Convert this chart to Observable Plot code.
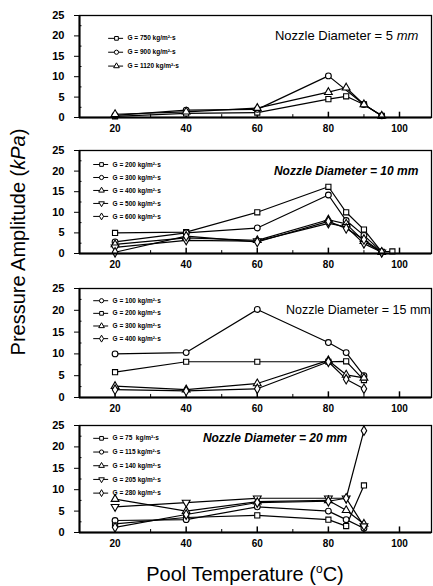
<!DOCTYPE html>
<html><head><meta charset="utf-8">
<script src="https://cdn.jsdelivr.net/npm/d3@7"></script>
<script src="https://cdn.jsdelivr.net/npm/@observablehq/plot@0.6"></script>
<style>
html,body{margin:0;padding:0;background:#fff;}
#wrap{position:relative;width:433px;height:586px;overflow:hidden;font-family:"Liberation Sans",Arial,sans-serif;color:#000;}
.panel{position:absolute;left:0;}
.ytitle{position:absolute;left:18px;top:242px;transform:translate(-50%,-50%) rotate(-90deg);font-size:20px;white-space:nowrap;}
.xtitle{position:absolute;left:245px;top:574px;transform:translate(-50%,-50%);font-size:20px;white-space:nowrap;}
</style></head><body>
<div id="wrap">
  <div class="ytitle">Pressure Amplitude (<i>kPa</i>)</div>
  <div class="xtitle">Pool Temperature (<sup style="font-size:12px">o</sup>C)</div>
</div>
<script>
// ---- Data ----
const yTicks = [0, 5, 10, 15, 20, 25];
const xTicks = [20, 40, 60, 80, 100];

// Nozzle diameter 5 mm
const temps5 = [20, 40, 60, 80, 85, 90, 95];
const d5_750  = [0.3, 1.0, 1.2, 4.5, 5.2, 3.2, 0.4];
const d5_900  = [0.5, 1.8, 2.0, 10.2, null, 3.2, 0.4];
const d5_1120 = [0.8, 1.4, 2.3, 6.2, 7.3, 3.2, 0.4];
const labels5 = ["G = 750 kg/m²·s", "G = 900 kg/m²·s", "G = 1120 kg/m²·s"];

// Nozzle diameter 10 mm
const temps10 = [20, 40, 60, 80, 85, 90, 95, 98];
const d10_200 = [5.0, 5.2, 10.0, 16.2, 10.0, 5.8, 0.4, 0.5];
const d10_300 = [2.8, 5.0, 6.2, 14.2, 8.0, 4.4, 0.4, null];
const d10_400 = [2.2, 3.8, 3.2, 8.2, 7.2, 3.0, 0.3, null];
const d10_500 = [1.5, 3.2, 3.0, 7.3, 6.5, 2.4, 0.3, null];
const d10_600 = [0.3, 4.2, 2.8, 7.8, 6.1, 3.4, 0.3, null];
const labels10 = ["G = 200 kg/m²·s", "G = 300 kg/m²·s", "G = 400 kg/m²·s", "G = 500 kg/m²·s", "G = 600 kg/m²·s"];

// Nozzle diameter 15 mm
const temps15 = [20, 40, 60, 80, 85, 90];
const d15_100 = [10.0, 10.3, 20.2, 12.6, 10.3, 5.0];
const d15_200 = [5.8, 8.2, 8.2, 8.2, 8.3, 4.0];
const d15_300 = [2.6, 1.8, 3.2, 8.5, 5.2, 4.5];
const d15_400 = [1.8, 1.5, 2.0, 8.2, 4.2, 2.0];
const labels15 = ["G = 100 kg/m²·s", "G = 200 kg/m²·s", "G = 300 kg/m²·s", "G = 400 kg/m²·s"];

// Nozzle diameter 20 mm
const temps20 = [20, 40, 60, 80, 85, 90];
const d20_75  = [2.0, 3.5, 4.0, 3.0, 1.5, 11.0];
const d20_115 = [2.8, 3.0, 6.0, 5.0, 3.0, 1.0];
const d20_140 = [7.8, 5.0, 7.2, 7.5, 5.2, 2.0];
const d20_205 = [6.0, 7.0, 8.0, 8.0, 8.0, 1.5];
const d20_280 = [1.2, 4.2, 7.0, 7.3, 8.0, 23.8];
const labels20 = ["G = 75  kg/m²·s", "G = 115 kg/m²·s", "G = 140 kg/m²·s", "G = 205 kg/m²·s", "G = 280 kg/m²·s"];

const titles = ["Nozzle Diameter = 5 mm", "Nozzle Diameter = 10 mm", "Nozzle Diameter = 15 mm", "Nozzle Diameter = 20 mm"];

// ---- Styling / layout ----
const invTriangle = {
  draw(context, size) {
    const s3 = Math.sqrt(3);
    const y = Math.sqrt(size / (s3 * 3));
    context.moveTo(0, y * 2);
    context.lineTo(-s3 * y, -y);
    context.lineTo(s3 * y, -y);
    context.closePath();
  }
};

const panels = [
  {temps: temps5, series: [d5_750, d5_900, d5_1120], labels: labels5, title: titles[0],
   symbols: ["square", "circle", "triangle"], top: 9, h: 102,
   tx: 105.3, ty: 20, anchor: "end", tWeight: "normal", tStyle: "normal", tSize: 13, italicMM: true,
   leg: {x1: 18.2, x2: 22.4, xm: 20.4, xt: 23.5, top: 19.4, step: 3.4}},
  {temps: temps10, series: [d10_200, d10_300, d10_400, d10_500, d10_600], labels: labels10, title: titles[1],
   symbols: ["square", "circle", "triangle", invTriangle, "diamond"], top: 144, h: 103,
   tx: 105.3, ty: 20, anchor: "end", tWeight: "bold", tStyle: "italic", tSize: 12, italicMM: false,
   leg: {x1: 14.0, x2: 18.2, xm: 16.2, xt: 19.3, top: 21.6, step: 3.15}},
  {temps: temps15, series: [d15_100, d15_200, d15_300, d15_400], labels: labels15, title: titles[2],
   symbols: ["circle", "square", "triangle", "diamond"], top: 282, h: 109,
   tx: 108.8, ty: 20, anchor: "end", tWeight: "normal", tStyle: "normal", tSize: 12.5, italicMM: false,
   leg: {x1: 14.0, x2: 18.2, xm: 16.2, xt: 19.3, top: 22.2, step: 2.9}},
  {temps: temps20, series: [d20_75, d20_115, d20_140, d20_205, d20_280], labels: labels20, title: titles[3],
   symbols: ["square", "circle", "triangle", invTriangle, "diamond"], top: 419, h: 107,
   tx: 44.7, ty: 22, anchor: "start", tWeight: "bold", tStyle: "italic", tSize: 12, italicMM: false,
   leg: {x1: 14.0, x2: 18.2, xm: 16.2, xt: 19.3, top: 22, step: 3.2}}
];

const wrap = document.getElementById("wrap");

panels.forEach(p => {
  const marks = [];
  // minor inward ticks
  marks.push(Plot.ruleY([2.5, 7.5, 12.5, 17.5, 22.5], {y: d => d, x1: 10, x2: 10.7, stroke: "black", strokeWidth: 1}));
  marks.push(Plot.ruleX(xTicks, {x: d => d, y1: 0, y2: 1.3, stroke: "black", strokeWidth: 1.5}));
  marks.push(Plot.ruleX([30, 50, 70, 90], {x: d => d, y1: 0, y2: 0.7, stroke: "black", strokeWidth: 1}));
  // series
  const ptsList = p.series.map(vals => p.temps.map((t, j) => ({t, v: vals[j]})).filter(d => d.v != null));
  ptsList.forEach(pts => marks.push(Plot.line(pts, {x: "t", y: "v", stroke: "black", strokeWidth: 1.2})));
  ptsList.forEach((pts, i) => marks.push(Plot.dot(pts, {x: "t", y: "v", symbol: p.symbols[i], r: 2.9, fill: "white", stroke: "black", strokeWidth: 1.1})));
  // legend
  const rows = p.labels.map((label, i) => ({label, y: p.leg.top - i * p.leg.step}));
  marks.push(Plot.ruleY(rows, {y: "y", x1: p.leg.x1, x2: p.leg.x2, stroke: "black", strokeWidth: 1}));
  rows.forEach((r, i) => marks.push(Plot.dot([r], {x: p.leg.xm, y: "y", symbol: p.symbols[i], r: 2.1, fill: "white", stroke: "black", strokeWidth: 1})));
  marks.push(Plot.text(rows, {x: p.leg.xt, y: "y", text: "label", textAnchor: "start", fontSize: 6.5, fontWeight: "bold"}));
  // title
  marks.push(Plot.text([p.title], {x: p.tx, y: p.ty, text: d => d, textAnchor: p.anchor, fontSize: p.tSize, fontWeight: p.tWeight, fontStyle: p.tStyle}));
  // frame & axes
  marks.push(Plot.frame({stroke: "black", strokeWidth: 1.3}));
  marks.push(Plot.ruleY([0], {stroke: "black", strokeWidth: 2}));
  marks.push(Plot.ruleX([10], {stroke: "black", strokeWidth: 2}));
  marks.push(Plot.axisY({ticks: yTicks, tickSize: 5, tickPadding: 10, fontSize: 11, fontWeight: "bold", label: null}));
  marks.push(Plot.axisX({ticks: xTicks, tickSize: 0, tickPadding: 7, fontSize: 10, fontWeight: "bold", label: null}));

  const chart = Plot.plot({
    width: 433,
    height: p.h + 6 + 22,
    marginLeft: 79, marginRight: 2, marginTop: 6, marginBottom: 22,
    x: {domain: [10, 109]},
    y: {domain: [0, 25]},
    style: {fontFamily: "'Liberation Sans', Arial, sans-serif", background: "transparent", color: "black", overflow: "visible"},
    marks
  });
  // italic "mm" in the title
  d3.select(chart).selectAll("text").each(function() {
    const t = this.textContent;
    if (t === p.title && p.italicMM) {
      this.textContent = t.replace(/mm$/, "");
      const ts = document.createElementNS("http://www.w3.org/2000/svg", "tspan");
      ts.setAttribute("font-style", "italic");
      ts.textContent = "mm";
      this.appendChild(ts);
    }
  });
  chart.classList.add("panel");
  chart.style.position = "absolute";
  chart.style.top = p.top + "px";
  chart.style.left = "0px";
  wrap.appendChild(chart);
});
</script>
</body></html>
